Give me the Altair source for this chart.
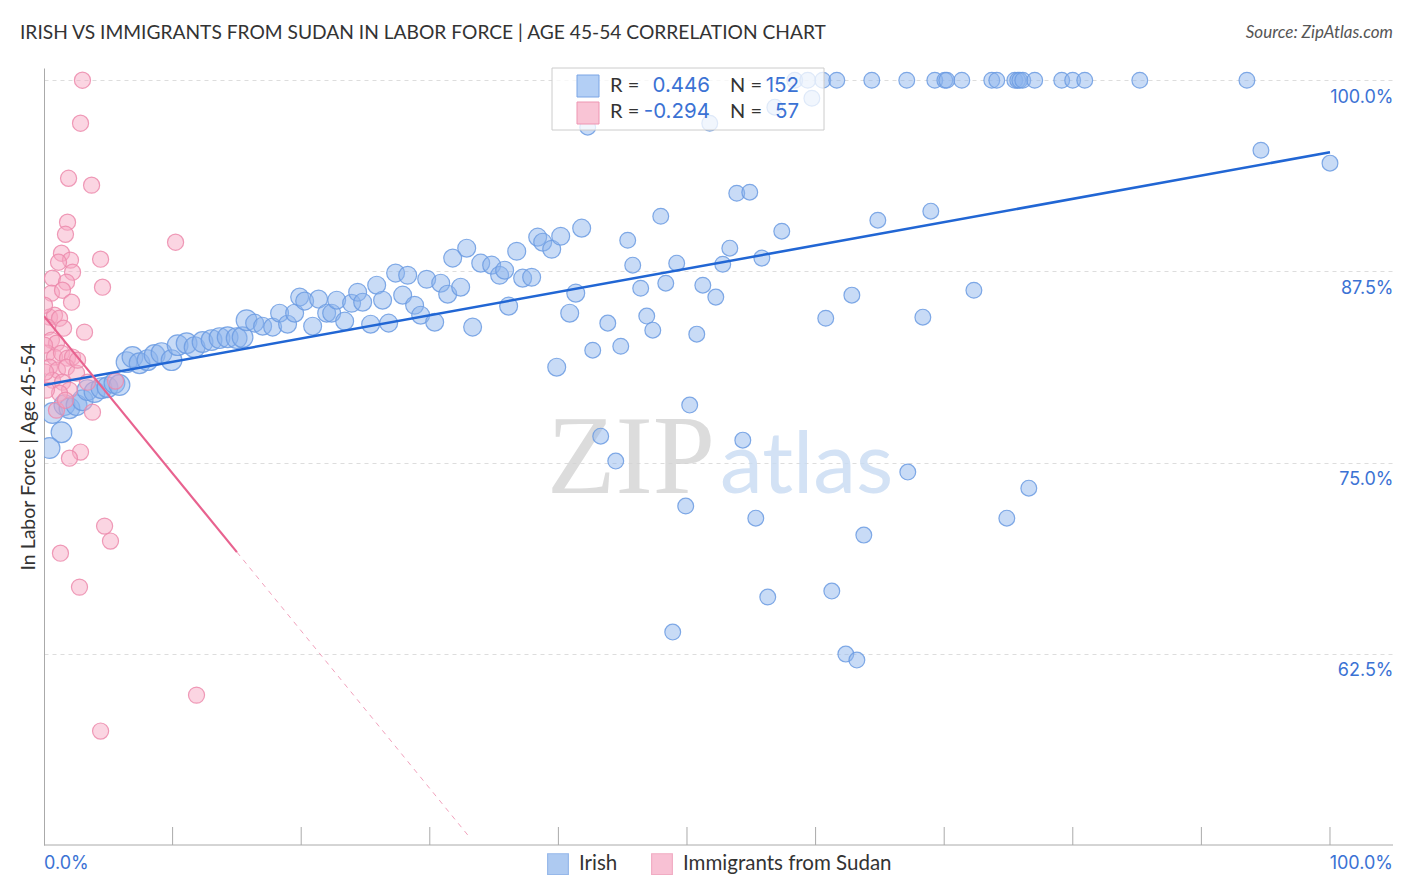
import altair as alt
import pandas as pd

# ---------------- data ----------------
irish_x = [0.66, 1.36, 0.43, 1.59, 1.98, 2.53, 3.0, 3.38, 3.93, 4.47, 4.94, 5.48, 5.87, 6.42, 6.88, 7.43, 8.05, 8.6, 9.14, 9.92,
           10.39, 11.09, 11.71, 12.33, 13.03, 13.65, 14.28, 14.98,
           15.44, 15.75, 16.38, 17.0, 17.78, 18.32, 18.94, 19.49, 19.88, 20.27, 20.89, 21.35, 21.98, 22.37, 22.76, 23.38, 23.92,
           24.39, 24.78, 25.4, 25.87, 26.33, 26.8, 27.34, 27.89, 28.28, 28.82, 29.29, 29.76, 30.38, 30.85, 31.39, 31.78, 32.4,
           32.87, 33.33, 33.96, 34.81, 35.43, 35.82, 36.13, 36.76, 37.22, 37.92, 38.39, 38.78, 39.48, 40.18, 39.87,
           41.81, 45.39, 47.96, 45.78, 49.2, 53.33, 52.78, 55.82, 57.37, 64.84, 68.96, 41.35, 46.4, 48.35, 51.23, 52.24, 62.82,
           40.88, 46.87, 43.84, 47.34, 50.76, 60.79, 68.34, 42.67, 44.85, 53.87, 54.88, 72.31,
           50.21, 43.29, 44.46, 54.34, 67.17, 49.9, 55.35, 63.75, 74.87, 76.58, 56.28, 61.26, 48.89, 62.35, 63.21,
           58.38, 59.39, 60.56, 61.65, 64.37, 67.09, 69.27, 70.05, 70.2, 71.37, 73.7, 74.09, 75.49, 75.72, 75.88, 76.11, 77.04,
           79.14, 79.99, 80.93, 85.21, 93.54,
           56.83, 59.71, 42.28, 51.77, 94.63, 100.0]
irish_y = [78.24, 76.99, 75.95, 78.76, 78.56, 78.76, 79.08, 79.74, 79.61, 79.87, 79.93, 80.2, 80.07, 81.57, 81.9, 81.5, 81.7,
           82.03, 82.16, 81.7, 82.68, 82.81, 82.55, 82.88, 83.01, 83.14, 83.2, 83.14,
           83.2, 84.31, 84.12, 83.92, 83.86, 84.77, 84.05, 84.77, 85.82, 85.56, 83.92, 85.69, 84.77, 84.77, 85.62, 84.25, 85.42,
           86.14, 85.49, 84.05, 86.6, 85.62, 84.12, 87.39, 85.95, 87.25, 85.29, 84.64, 86.99, 84.18, 86.73, 86.01, 88.37, 86.47,
           89.02, 83.86, 88.04, 87.91, 87.25, 87.58, 85.23, 88.82, 87.06, 87.12, 89.74, 89.41, 88.95, 89.8, 81.24,
           90.33, 89.54, 91.11, 87.91, 88.04, 89.02, 87.97, 88.37, 90.13, 90.85, 91.44, 86.08, 86.4, 86.73, 86.6, 85.82, 85.95,
           84.77, 84.58, 84.12, 83.66, 83.4, 84.44, 84.51, 82.35, 82.61, 92.61, 92.68, 86.27,
           78.76, 76.73, 75.1, 76.47, 74.38, 72.16, 71.37, 70.26, 71.37, 73.33, 66.21, 66.6, 63.92, 62.48, 62.09,
           100.0, 100.0, 100.0, 100.0, 100.0, 100.0, 100.0, 100.0, 100.0, 100.0, 100.0, 100.0, 100.0, 100.0, 100.0, 100.0, 100.0,
           100.0, 100.0, 100.0, 100.0, 100.0,
           98.24, 98.82, 96.93, 97.19, 95.42, 94.58]

sudan_x = [2.99, 2.84, 1.91, 3.70, 1.83, 1.67, 10.23, 1.36, 2.06, 4.40, 1.13, 2.22, 0.66, 1.75, 4.55, 0.58, 1.44, 2.14, 3.15,
           0.43, 0.82, 1.21, 0.27, 0.58, 0.97, 0.27, 0.82, 1.36, 1.83, 2.22, 0.43, 1.05, 1.75, 2.53, 0.66, 1.44, 1.98, 1.21,
           3.77, 0.97, 2.84, 1.98, 4.71, 5.17, 1.28, 2.76, 11.86, 4.40,
           0.04, 0.04, 1.52, 2.61, 0.19, 1.67, 5.56, 3.38, 0.12]
sudan_y = [100.0, 97.19, 93.59, 93.14, 90.72, 89.93, 89.41, 88.69, 88.24, 88.30, 88.10, 87.45, 87.06, 86.80, 86.47, 86.08,
           86.27, 85.49, 83.53, 84.51, 84.64, 84.44, 83.86, 83.01, 82.81, 82.16, 81.90, 82.16, 81.83, 81.90, 81.24, 81.05,
           81.24, 80.85, 80.39, 80.26, 79.74, 79.54, 78.30, 78.43, 75.69, 75.29, 70.85, 69.87, 69.08, 66.86, 59.80, 57.45,
           85.29, 82.68, 83.79, 81.70, 79.74, 79.08, 80.33, 80.26, 80.92]

irish_fit_x = [0, 100]
irish_fit_y = [80.07, 95.29]
sudan_fit_x = [0, 15]
sudan_fit_y = [84.58, 69.15]
sudan_ext_x = [15, 33.1]
sudan_ext_y = [69.15, 50.5]

groups = ["Irish", "Immigrants from Sudan"]
y_ticks = [62.5, 75, 87.5, 100]
x_ticks = [10, 20, 30, 40, 50, 60, 70, 80, 90, 100]
x_end_labels = ["0.0%", "100.0%"]
stats_r = ["0.446", "-0.294"]
stats_n = ["152", "57"]
title_text = "IRISH VS IMMIGRANTS FROM SUDAN IN LABOR FORCE | AGE 45-54 CORRELATION CHART"
source_text = "Source: ZipAtlas.com"

# ---------------- styling ----------------
W, H = 1349, 777
FONT = "Lato"
NUMFONT = "Inter"
BLUE_TXT = "#3b72d4"
fill_colors = ["#8db4ec", "#f6a8c2"]
stroke_colors = ["#6b9be2", "#ec8aab"]

xs = alt.Scale(domain=[0, 104.9], nice=False, zero=False)
ys = alt.Scale(domain=[50, 100.8], nice=False, zero=False)

pts = pd.DataFrame({
    "x": irish_x + sudan_x,
    "y": irish_y + sudan_y,
    "group": [groups[0]] * len(irish_x) + [groups[1]] * len(sudan_x),
})

legend_kw = dict(orient="none", legendX=503, legendY=785, direction="horizontal", title=None,
                 symbolType="square", symbolSize=430, symbolStrokeWidth=1.2, symbolOpacity=0.7,
                 labelFontSize=20.5, labelColor="#333333", labelFont=FONT, labelLimit=400,
                 columnPadding=31, labelOffset=10)

points = alt.Chart(pts).transform_calculate(
    sz="datum.group == 'Irish' ? (datum.x < 16 ? 430 : (datum.x < 42 ? 320 : 250)) : 260"
).mark_circle(fillOpacity=0.48, strokeWidth=1.2, strokeOpacity=0.85, clip=True).encode(
    x=alt.X("x:Q", scale=xs, axis=alt.Axis(
        values=[0, 100], title=None, grid=False, ticks=False, labels=False,
        domain=True, domainColor="#aaaaaa")),
    y=alt.Y("y:Q", scale=ys, axis=alt.Axis(
        orient="left", values=y_ticks, labels=False, ticks=False, domainColor="#aaaaaa",
        grid=True, gridColor="#dddddd", gridDash=[4, 4],
        title="In Labor Force | Age 45-54", titleFontSize=19.5, titleColor="#333333",
        titleFontWeight="normal", titleFont=FONT, titlePadding=6)),
    fill=alt.Fill("group:N", scale=alt.Scale(domain=groups, range=fill_colors), legend=alt.Legend(**legend_kw)),
    stroke=alt.Stroke("group:N", scale=alt.Scale(domain=groups, range=stroke_colors), legend=alt.Legend(**legend_kw)),
    size=alt.Size("sz:Q", scale=None, legend=None),
)

def line_chart(xv, yv, color, width, axis=None, dash=None, opacity=1.0):
    df = pd.DataFrame({"x": xv, "y": yv})
    kw = dict(color=color, strokeWidth=width, opacity=opacity, clip=True)
    if dash:
        kw["strokeDash"] = dash
    return alt.Chart(df).mark_line(**kw).encode(
        x=alt.X("x:Q", scale=xs, axis=None),
        y=alt.Y("y:Q", scale=ys, axis=axis),
    )

right_axis = alt.Axis(orient="right", values=y_ticks, title=None, grid=False, ticks=False, domain=False,
                      labelAlign="right", labelPadding=0, labelOffset=17, labelBaseline="middle",
                      labelExpr="format(datum.value, '.1f') + '%'", labelColor=BLUE_TXT,
                      labelFontSize=18, labelFont=NUMFONT)

blue_line = line_chart(irish_fit_x, irish_fit_y, "#2166d4", 2.5, axis=right_axis)
pink_line = line_chart(sudan_fit_x, sudan_fit_y, "#e8628f", 2.2)
pink_ext = line_chart(sudan_ext_x, sudan_ext_y, "#e8628f", 1, dash=[5, 5], opacity=0.6)

ticks = alt.Chart(pd.DataFrame({"x": x_ticks})).mark_rule(color="#aaaaaa", strokeWidth=1).encode(
    x=alt.X("x:Q", scale=xs, axis=None), y=alt.value(H), y2=alt.value(H - 18))


def text(s, x, y, **kw):
    return alt.Chart(pd.DataFrame({"t": [s]})).mark_text(**kw).encode(
        x=alt.value(x), y=alt.value(y), text="t:N")


def box(x, x2, y, y2, **kw):
    return alt.Chart(pd.DataFrame({"a": [0]})).mark_rect(**kw).encode(
        x=alt.value(x), x2=alt.value(x2), y=alt.value(y), y2=alt.value(y2))


bottom_line = alt.Chart(pd.DataFrame({"a": [0]})).mark_rule(color="#aaaaaa", strokeWidth=1).encode(
    x=alt.value(0), x2=alt.value(W), y=alt.value(H))

x_lab0 = text(x_end_labels[0], 0, H + 19, font=NUMFONT, fontSize=18, color=BLUE_TXT, align="left", baseline="middle")
x_lab1 = text(x_end_labels[1], W, H + 19, font=NUMFONT, fontSize=18, color=BLUE_TXT, align="right", baseline="middle")

wm_zip = text("ZIP", 671, 425, font="Liberation Serif", fontSize=112, color="#d4d4d4", align="right",
              baseline="alphabetic", opacity=0.8)
wm_atlas = text("atlas", 676, 425, font=FONT, fontSize=86, color="#c9dcf3", align="left",
                baseline="alphabetic", opacity=0.8)

title = text(title_text, -24, -35, font=FONT, fontSize=19.2, color="#333333", align="left", baseline="middle")
source = text(source_text, W, -35, font=FONT, fontSize=17, fontStyle="italic", color="#555555",
              align="right", baseline="middle")

leg_box = box(508, 780, 0, 62, fill="white", fillOpacity=0.75, stroke="#cccccc", strokeWidth=1)
sq1 = box(533, 555, 7, 29, fill="#b3cff5", stroke="#7aa5e5", strokeWidth=1)
sq2 = box(533, 555, 34, 56, fill="#f9c4d5", stroke="#ee95b2", strokeWidth=1)
leg_texts = []
for i, yy in enumerate([18, 44]):
    leg_texts += [
        text("R =", 566, yy, font=FONT, fontSize=20, color="#333333", align="left", baseline="middle"),
        text(stats_r[i], 666, yy, font=NUMFONT, fontSize=20.5, color=BLUE_TXT, align="right", baseline="middle"),
        text("N =", 686, yy, font=FONT, fontSize=20, color="#333333", align="left", baseline="middle"),
        text(stats_n[i], 755, yy, font=NUMFONT, fontSize=20.5, color=BLUE_TXT, align="right", baseline="middle"),
    ]

chart = alt.layer(
    wm_zip, wm_atlas, points, blue_line, pink_line, pink_ext, ticks, bottom_line,
    leg_box, sq1, sq2, *leg_texts, title, source, x_lab0, x_lab1
).resolve_axis(y="independent").properties(
    width=W, height=H,
    autosize=alt.AutoSizeParams(type="none"),
    padding={"left": 36, "top": 60, "right": 5, "bottom": 40},
).configure_view(stroke=None)

chart.save("out.html", embed_options={"renderer": "svg", "actions": False})
